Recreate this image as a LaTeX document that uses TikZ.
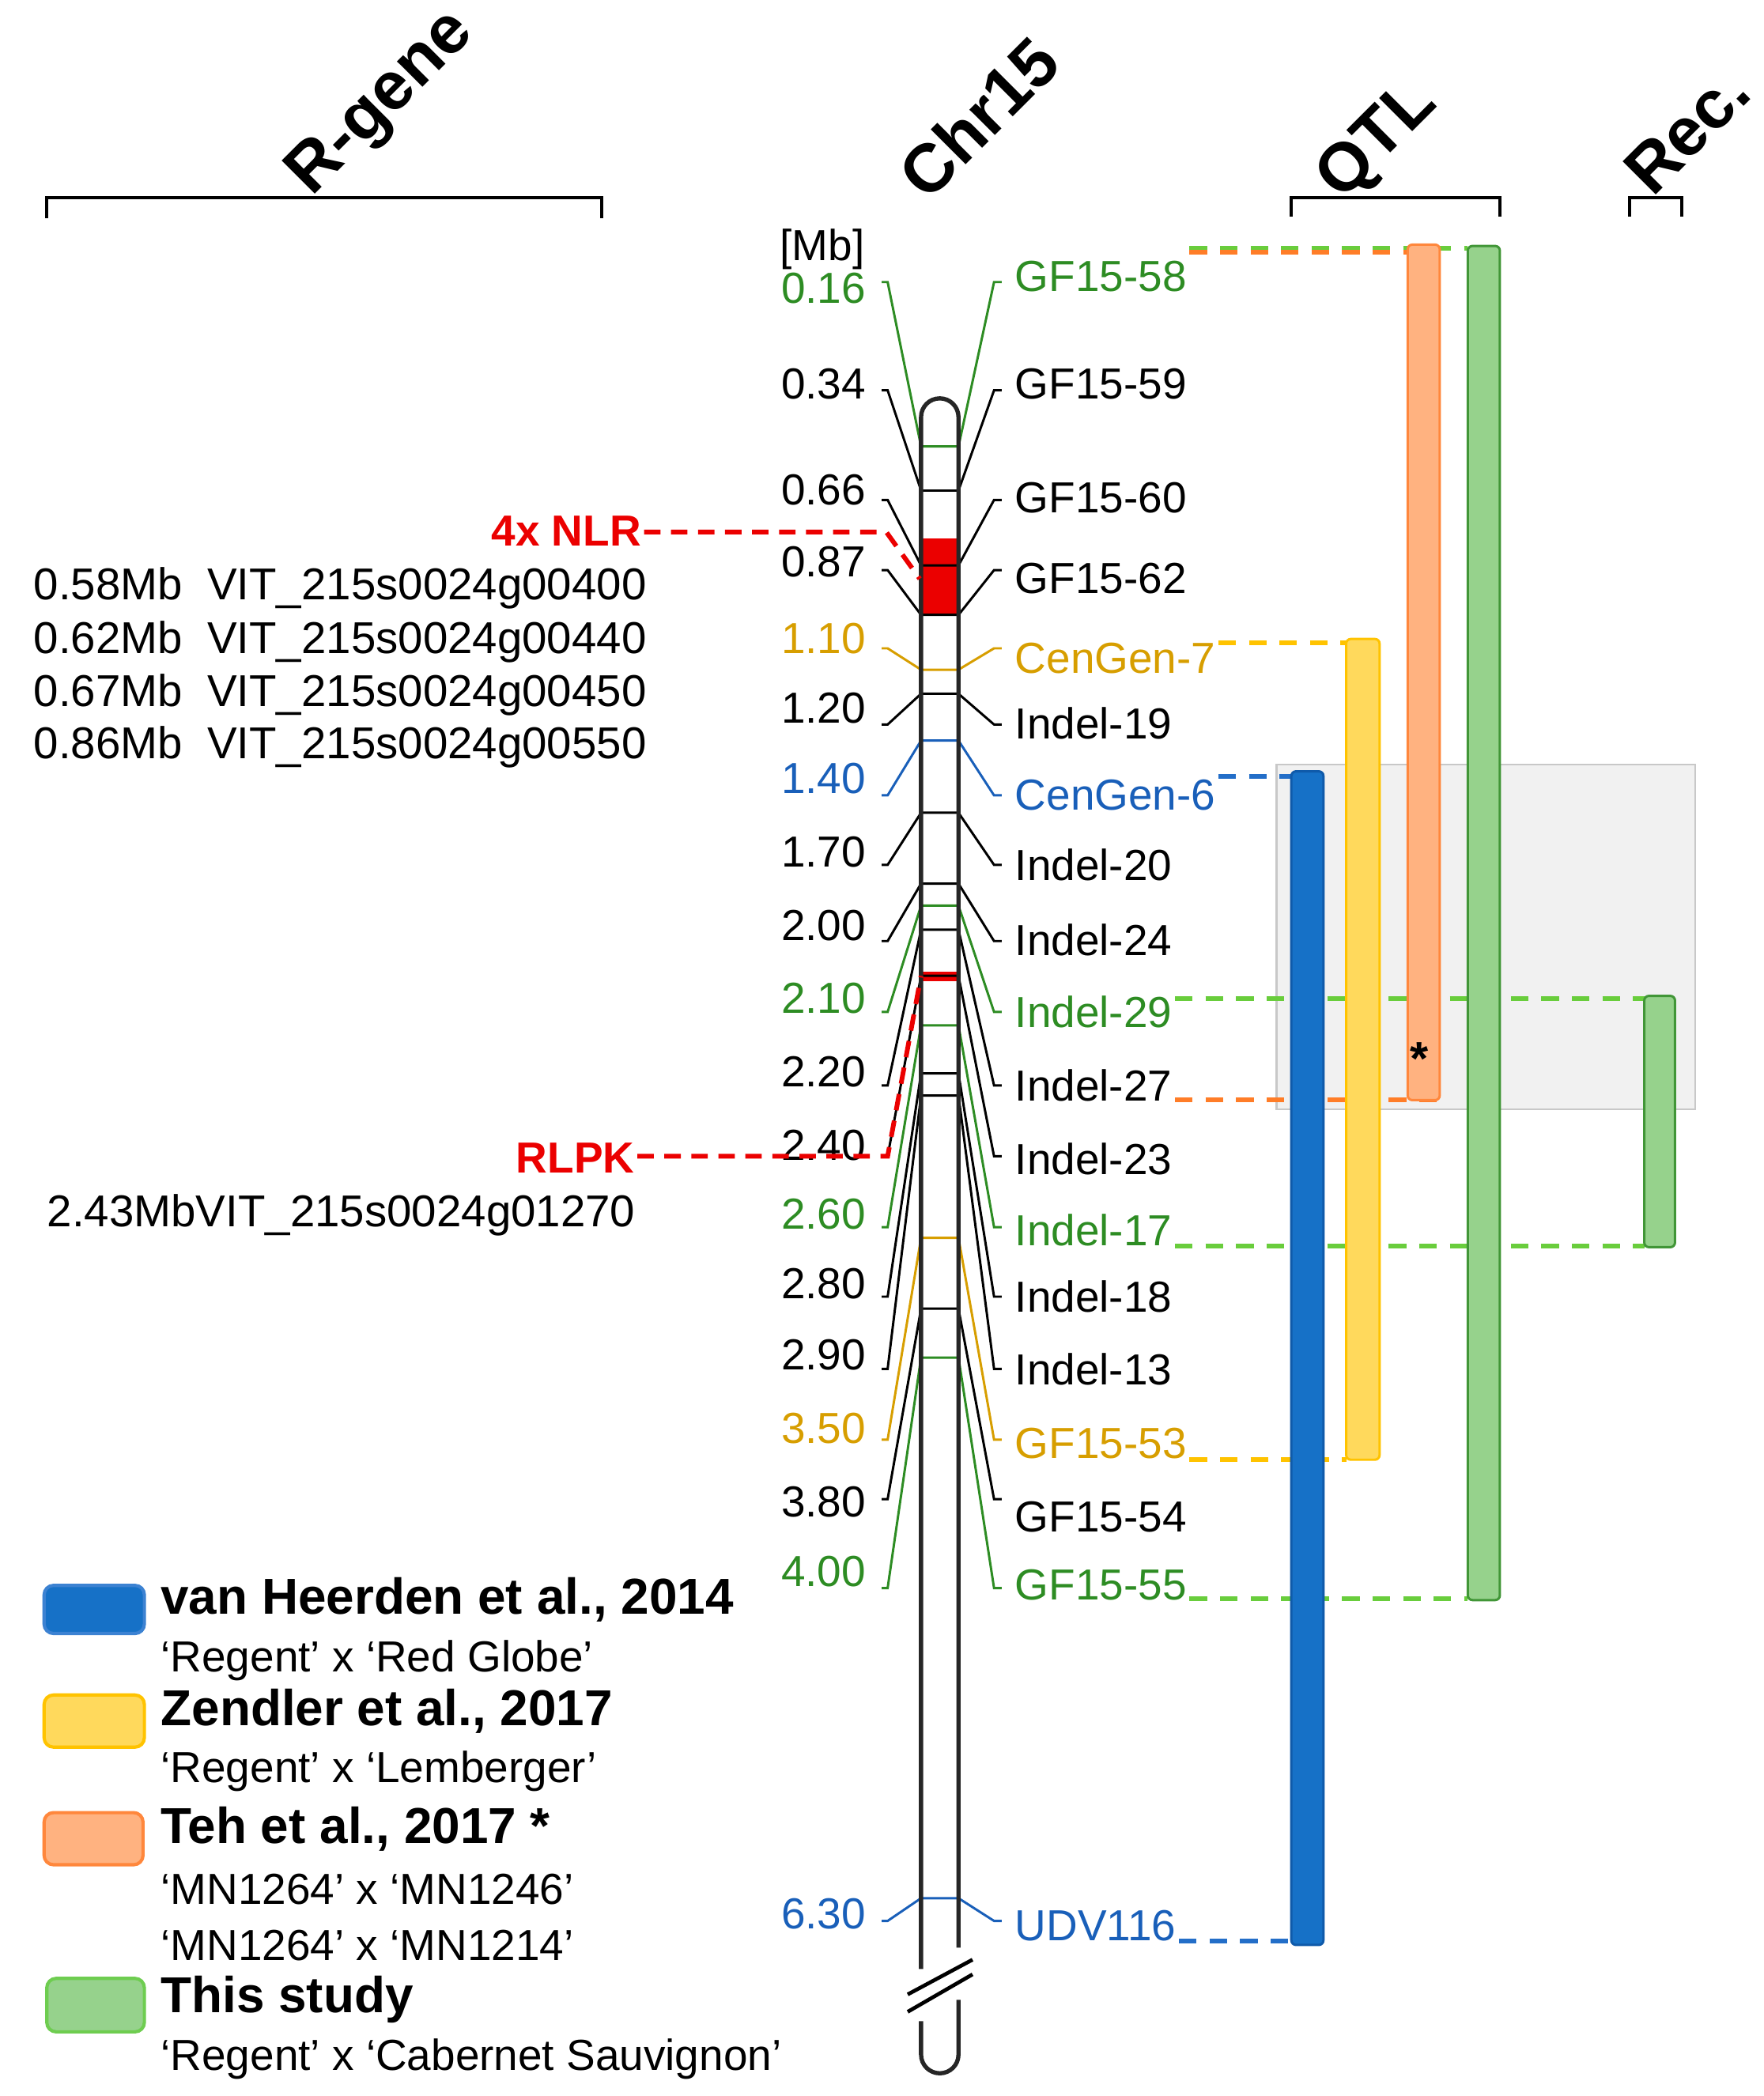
\documentclass[tikz,border=0pt]{standalone}
\usepackage{fontspec}
\setmainfont{Liberation Sans}
\usetikzlibrary{calc}
\definecolor{mG}{RGB}{45,140,35}
\definecolor{mY}{RGB}{215,158,0}
\definecolor{mB}{RGB}{25,95,185}
\definecolor{mK}{RGB}{0,0,0}
\definecolor{nlr}{RGB}{235,0,0}
\definecolor{dG}{RGB}{105,205,60}
\definecolor{dO}{RGB}{255,125,40}
\definecolor{dY}{RGB}{255,195,0}
\definecolor{dB}{RGB}{35,110,200}
\definecolor{fB}{RGB}{22,113,199}
\definecolor{bB}{RGB}{15,90,170}
\definecolor{lB}{RGB}{60,130,210}
\definecolor{fY}{RGB}{255,217,92}
\definecolor{bY}{RGB}{255,195,0}
\definecolor{fO}{RGB}{255,178,128}
\definecolor{bO}{RGB}{255,135,60}
\definecolor{fG}{RGB}{150,210,140}
\definecolor{bG}{RGB}{65,150,55}
\definecolor{lG}{RGB}{110,205,80}
\definecolor{boxG}{RGB}{241,241,241}
\definecolor{boxL}{RGB}{200,200,200}
\begin{document}
\begin{tikzpicture}[x=0.02cm,y=-0.02cm,
  mk/.style={font=\fontsize{18.5}{22}\selectfont, inner sep=0pt, text height=13.3pt, text depth=0pt},
  lval/.style={mk, anchor=east},
  rval/.style={mk, anchor=west},
  conn/.style={line width=1pt},
  qdash/.style={line width=2pt, dash pattern=on 7.5pt off 5.5pt},
  rdash/.style={line width=2pt, dash pattern=on 7pt off 4.5pt, draw=nlr},
  bar/.style={line width=1pt, rounded corners=2pt},
  chrline/.style={line width=1.8pt, draw=black!85},
  hdr/.style={font=\bfseries\fontsize{29}{34}\selectfont, rotate=45, inner sep=0pt},
  brk/.style={line width=1.5pt},
  legT/.style={font=\bfseries\fontsize{21.5}{25}\selectfont, anchor=west, inner sep=0pt},
  legS/.style={mk, anchor=west},
  gene/.style={mk, font=\fontsize{19}{22}\selectfont, anchor=west},
  swatch/.style={line width=1.4pt, rounded corners=4pt}
]
\useasboundingbox (0,0) rectangle (1319,1568);

% headers and brackets
\node[hdr] (hR) at (286,78) {R-gene};
\node[hdr] (hC) at (732,88) {Chr15};
\node[hdr] (hQ) at (1031,106) {QTL};
\node[hdr] (hRec) at (1262,98) {Rec.};
\draw[brk] (35,163) -- (35,148) -- (450,148) -- (450,163);
\draw[brk] (966,162) -- (966,148) -- (1122,148) -- (1122,162);
\draw[brk] (1219,162) -- (1219,148) -- (1258,148) -- (1258,162);

% grey highlight box
\draw[fill=boxG, draw=boxL, line width=0.8pt] (955,572) rectangle (1268,830);

% marker labels and connectors
\node[mk, anchor=east] (mb) at (647,183) {[Mb]};
\fill[nlr] (689,403) rectangle (717,460);
\fill[nlr] (689,727) rectangle (717,734);
\foreach \lt/\lv/\c/\ty/\by/\rv/\rt [count=\i] in {
215/0.16/mG/211/334/GF15-58/206,
287/0.34/mK/292/367/GF15-59/287,
366/0.66/mK/374/423/GF15-60/372,
420/0.87/mK/426.5/460/GF15-62/432,
477/1.10/mY/485/501/CenGen-7/492,
529/1.20/mK/542/519/Indel-19/541,
582/1.40/mB/595/554/CenGen-6/594,
637/1.70/mK/647/608/Indel-20/647,
692/2.00/mK/704/661/Indel-24/703,
746/2.10/mG/757/677.5/Indel-29/757,
801/2.20/mK/812/695.5/Indel-27/812,
856/2.40/mK/865/730/Indel-23/867,
908/2.60/mG/918/767/Indel-17/920,
960/2.80/mK/970/803/Indel-18/970,
1013/2.90/mK/1024/819.6/Indel-13/1024,
1068/3.50/mY/1077/926/GF15-53/1079,
1123/3.80/mK/1121.5/979/GF15-54/1134,
1175/4.00/mG/1188/1015.6/GF15-55/1185,
1431/6.30/mB/1437/1420/UDV116/1440}
{
  \node[lval, text=\c] (l\i) at (648,\lt) {\lv};
  \node[rval, text=\c] (r\i) at (759,\rt) {\rv};
  \draw[conn, draw=\c] (659.5,\ty) -- (664,\ty) -- (689,\by) -- (717,\by) -- (743.6,\ty) -- (749.3,\ty);
}

% chromosome outline
\draw[chrline] (689,1473) -- (689,312) arc (180:360:14) -- (717,1457);
\draw[chrline] (689,1512) -- (689,1537) arc (180:0:14) -- (717,1496);
\draw[line width=1.6pt] (679,1492) -- (727.5,1466);
\draw[line width=1.6pt] (679,1505) -- (727.5,1477);

% R-gene annotations
\node[mk, font=\bfseries\fontsize{18.5}{22}\selectfont, text=nlr, anchor=east] (nlrl) at (480,397) {4x NLR};
\draw[rdash] ([xshift=1pt]nlrl.east |- 0,398) -- (663,398) -- (688,433);
\node[mk, font=\bfseries\fontsize{18.5}{22}\selectfont, text=nlr, anchor=east] (rlpk) at (475,866) {RLPK};
\draw[rdash] ([xshift=1pt]rlpk.east |- 0,865) -- (664,865) -- (689,730);
\node[gene] (g1) at (25,437) {0.58Mb\hspace{0.55em}VIT\_215s0024g00400};
\node[gene] (g2) at (25,477) {0.62Mb\hspace{0.55em}VIT\_215s0024g00440};
\node[gene] (g3) at (25,517) {0.67Mb\hspace{0.55em}VIT\_215s0024g00450};
\node[gene] (g4) at (25,556) {0.86Mb\hspace{0.55em}VIT\_215s0024g00550};
\node[gene] (g5) at (35,906) {2.43MbVIT\_215s0024g01270};

% dashed links to QTL bars
\draw[qdash, draw=dG] ([xshift=1pt]r1.east |- 0,186) -- (1098,186);
\draw[qdash, draw=dO] ([xshift=1pt]r1.east |- 0,188.5) -- (1053,188.5);
\draw[qdash, draw=dY] ([xshift=1pt]r5.east |- 0,481) -- (1007,481);
\draw[qdash, draw=dB] ([xshift=1pt]r7.east |- 0,581) -- (966,581);
\draw[qdash, draw=dG] ([xshift=1pt]r10.east |- 0,747) -- (1230,747);
\draw[qdash, draw=dO] ([xshift=1pt]r11.east |- 0,823) -- (1077,823);
\draw[qdash, draw=dG] ([xshift=1pt]r13.east |- 0,932) -- (1230,932);
\draw[qdash, draw=dY] ([xshift=1pt]r16.east |- 0,1092) -- (1007,1092);
\draw[qdash, draw=dG] ([xshift=1pt]r18.east |- 0,1196) -- (1098,1196);
\draw[qdash, draw=dB] ([xshift=1pt]r19.east |- 0,1452) -- (966,1452);

% QTL bars
\draw[bar, fill=fB, draw=bB] (966,577) rectangle (990,1455);
\draw[bar, fill=fY, draw=bY] (1007,478) rectangle (1032,1092);
\draw[bar, fill=fO, draw=bO] (1053,183) rectangle (1077,823);
\draw[bar, fill=fG, draw=bG] (1098,184) rectangle (1122,1197);
\draw[bar, fill=fG, draw=bG] (1230,745) rectangle (1253,933);
\node[font=\bfseries\fontsize{20}{24}\selectfont, inner sep=0pt] (ast) at (1062,792) {*};

% legend
\draw[swatch, fill=fB, draw=lB] (33,1186) rectangle (108,1222);
\node[legT] (t1) at (120,1197) {van Heerden et al., 2014};
\node[legS] (s1) at (120,1239) {‘Regent’ x ‘Red Globe’};
\draw[swatch, fill=fY, draw=bY] (33,1268) rectangle (108,1307);
\node[legT] (t2) at (120,1280) {Zendler et al., 2017};
\node[legS] (s2) at (120,1322) {‘Regent’ x ‘Lemberger’};
\draw[swatch, fill=fO, draw=bO] (33,1356) rectangle (107,1395);
\node[legT] (t3) at (120,1368) {Teh et al., 2017 *};
\node[legS] (s3) at (120,1413) {‘MN1264’ x ‘MN1246’};
\node[legS] (s4) at (120,1455) {‘MN1264’ x ‘MN1214’};
\draw[swatch, fill=fG, draw=lG] (35,1480) rectangle (108,1520);
\node[legT] (t4) at (120,1496) {This study};
\node[legS] (s5) at (120,1537) {‘Regent’ x ‘Cabernet Sauvignon’};
\end{tikzpicture}
\end{document}
